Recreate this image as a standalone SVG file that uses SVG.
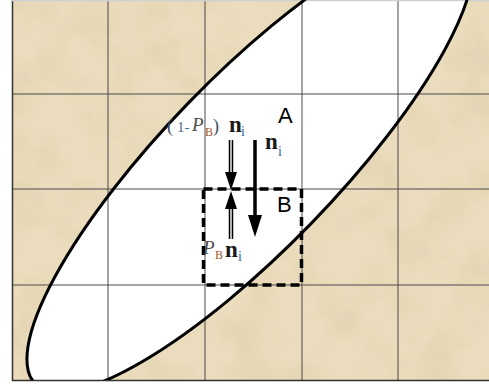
<svg xmlns="http://www.w3.org/2000/svg" width="489" height="387" viewBox="0 0 489 387">
<style>
.grid{stroke:#4a4a4a;stroke-width:1;fill:none}
.outline{fill:none;stroke:#000;stroke-width:3}
.box{fill:none;stroke:#000;stroke-width:3.5;stroke-dasharray:9 5}
.lbl{font-family:"Liberation Sans",Arial,sans-serif;font-size:22px;fill:#000}
.ser{font-family:"Liberation Serif","Times New Roman",serif}
.n{font-weight:bold;font-size:23px;fill:#1a1a1a}
.sub{font-size:14px;fill:#3b64a0}
.P{font-style:italic;font-size:19px;fill:#4a4a4a}
.Bs{font-size:12px;fill:#a0582a}
.par{font-size:18px;fill:#3b4b63}
.one{font-size:15px;fill:#4f6d8f}
</style>
<defs>
<clipPath id="frame"><rect x="12" y="0" width="477" height="380"/></clipPath>
<filter id="tex" x="0" y="0" width="100%" height="100%">
<feTurbulence type="fractalNoise" baseFrequency="0.022" numOctaves="4" seed="7"/>
<feColorMatrix type="matrix" values="0 0 0 0 0.78  0 0 0 0 0.66  0 0 0 0 0.46  2.4 0 0 0 -1.0"/>
</filter>
<marker id="head" viewBox="0 0 22 14" markerWidth="22" markerHeight="14" refX="0" refY="7" orient="auto" markerUnits="userSpaceOnUse">
<path d="M0,0 L22,7 L0,14 z" fill="#000"/>
</marker>
<marker id="headS" viewBox="0 0 18 12" markerWidth="18" markerHeight="12" refX="0" refY="6" orient="auto" markerUnits="userSpaceOnUse">
<path d="M0,0 L18,6 L0,12 z" fill="#000"/>
</marker>
</defs>
<rect width="489" height="387" fill="#fff"/>
<g id="background" clip-path="url(#frame)">
<rect x="12" y="0" width="477" height="380" fill="#eadcbc"/>
<rect x="12" y="0" width="477" height="380" filter="url(#tex)"/>
</g>
<g id="regionA" clip-path="url(#frame)">
<ellipse cx="250" cy="163" rx="308" ry="86" transform="rotate(-45.9 250 163)" fill="#fff"/>
</g>
<g id="grid" class="grid">
<path d="M108,0V380 M205,0V380 M302,0V380 M398,0V380 M12,94H489 M12,189H489 M12,285H489"/>
<path d="M12.5,0V380.5H489" stroke="#333" stroke-width="1.5"/>
<path d="M12,0.5H489" stroke="#d0d0d0" stroke-width="1.5"/>
</g>
<g id="outlineA" clip-path="url(#frame)">
<ellipse class="outline" cx="250" cy="163" rx="308" ry="86" transform="rotate(-45.9 250 163)"/>
</g>
<g id="boxB">
<rect class="box" x="203.5" y="189" width="98" height="96"/>
</g>
<g id="connectors">
<path d="M255,140V215" stroke="#000" stroke-width="3.5" marker-end="url(#head)"/>
<path d="M231,140V172" stroke="#000" stroke-width="4.5" marker-end="url(#headS)"/>
<path d="M231,140V172" stroke="#fff" stroke-width="1.4"/>
<path d="M231,239V209" stroke="#000" stroke-width="4.5" marker-end="url(#headS)"/>
<path d="M231,239V209" stroke="#fff" stroke-width="1.4"/>
</g>
<g id="labels">
<text class="lbl" x="278" y="123">A</text>
<text class="lbl" x="277" y="212">B</text>
<text class="ser"><tspan class="par" x="167" y="132">(</tspan><tspan class="one" x="177" y="132">1-</tspan><tspan class="P" x="192" y="131">P</tspan><tspan class="Bs" x="205" y="136">B</tspan><tspan class="par" x="213" y="132">)</tspan><tspan class="n" x="229" y="132">n</tspan><tspan class="sub" x="241" y="136">i</tspan></text>
<text class="ser"><tspan class="n" x="265" y="149">n</tspan><tspan class="sub" x="278" y="156">i</tspan></text>
<text class="ser"><tspan class="P" x="203" y="254">P</tspan><tspan class="Bs" x="215" y="259">B</tspan><tspan class="n" x="225" y="257">n</tspan><tspan class="sub" x="238" y="261">i</tspan></text>
</g>
</svg>
